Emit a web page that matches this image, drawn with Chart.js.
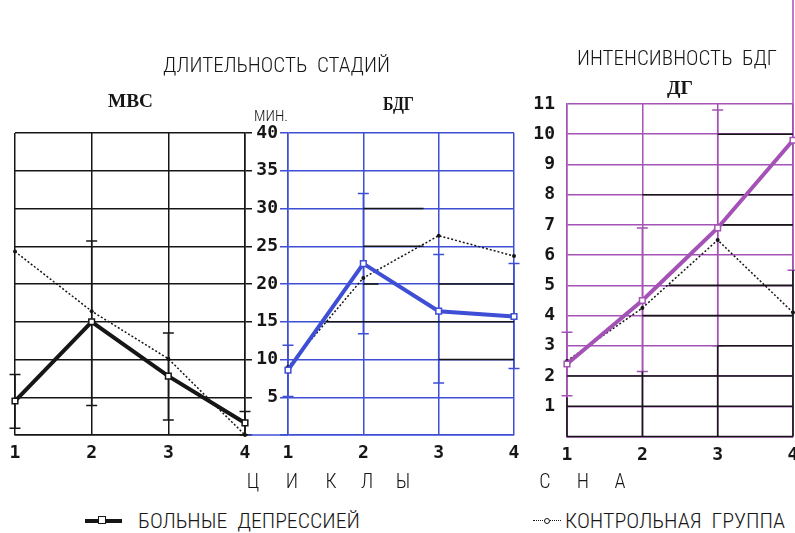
<!DOCTYPE html>
<html lang="ru">
<head>
<meta charset="utf-8">
<title>Длительность стадий и интенсивность БДГ по циклам сна</title>
<script src="https://cdn.jsdelivr.net/npm/chart.js@4.4.1/dist/chart.umd.min.js"></script>
<style>
  html, body { margin: 0; padding: 0; background: #fff; width: 795px; height: 533px; overflow: hidden; position: relative; }
  canvas { position: absolute; top: 0; }
  .thin { position: absolute; font-family: 'Roboto Condensed', 'Liberation Sans Narrow', 'DejaVu Sans', sans-serif; font-weight: 300;
          font-size: 20px; line-height: 1; color: #161616; white-space: pre; transform-origin: 0 0; }
  .serif { position: absolute; font-family: 'Liberation Serif', 'DejaVu Serif', serif; font-weight: bold;
           font-size: 18px; line-height: 1; color: #161616; white-space: pre; transform-origin: 0 0; }
  .letter { position: absolute; width: 30px; text-align: center; }
  .key-solid { position: absolute; height: 4px; background: #161616; }
  .key-dot { position: absolute; height: 0; border-top: 1.5px dotted #161616; }
  .key-box { position: absolute; width: 6px; height: 6px; background: #fff; border: 1.5px solid #161616; }
  .key-ring { position: absolute; width: 4px; height: 4px; background: #fff; border: 1px solid #161616; border-radius: 50%; }
</style>
</head>
<body>
<canvas id="mvs" width="260" height="475" style="left:0"></canvas>
<canvas id="bdg" width="290" height="475" style="left:240px"></canvas>
<canvas id="dg" width="300" height="475" style="left:520px"></canvas>

<div class="thin" data-w="227" style="left:163px;top:55px">ДЛИТЕЛЬНОСТЬ  СТАДИЙ</div>
<div class="thin" data-w="200" style="left:577px;top:48px">ИНТЕНСИВНОСТЬ  БДГ</div>
<div class="thin" data-w="34" style="left:254px;top:109px;font-size:15px">МИН.</div>
<div class="serif" data-w="45" style="left:108px;top:92px">МВС</div>
<div class="serif" data-w="31" style="left:383px;top:95px">БДГ</div>
<div class="serif" data-w="26" style="left:667px;top:79px">ДГ</div>

<div id="axisTitle"></div>

<div class="key-solid" style="left:85px;top:519px;width:37px"></div>
<div class="key-box" style="left:98px;top:516px"></div>
<div class="thin" data-w="222" style="left:138px;top:511px">БОЛЬНЫЕ  ДЕПРЕССИЕЙ</div>
<div class="key-dot" style="left:533px;top:520px;width:28px"></div>
<div class="key-ring" style="left:544px;top:518px"></div>
<div class="thin" data-w="220" style="left:565px;top:511px">КОНТРОЛЬНАЯ  ГРУППА</div>

<script>
// Sleep cycles along the x axis
const cycles = ['1', '2', '3', '4'];

// МВС — duration, minutes
const mvsPatients     = [4.5, 15.0, 7.8, 1.6];
const mvsPatientsHigh = [8.0, 25.7, 13.5, 3.1];
const mvsPatientsLow  = [0.9, 3.9, 2.0, 0.0];
const mvsControl      = [24.3, 16.4, 10.1, 0.0];

// БДГ — duration, minutes
const bdgPatients     = [8.6, 22.7, 16.4, 15.7];
const bdgPatientsHigh = [11.9, 32.0, 23.9, 22.7];
const bdgPatientsLow  = [5.1, 13.4, 6.9, 8.8];
const bdgControl      = [9.0, 20.8, 26.4, 23.7];

// ДГ — REM intensity
const dgPatients     = [2.4, 4.5, 6.9, 9.8];
const dgPatientsHigh = [3.45, 6.9, 10.8, 14.5];
const dgPatientsLow  = [1.35, 2.15, 3.0, 5.5];
const dgControl      = [2.5, 4.25, 6.5, 4.1];

// Axis ranges
const minuteRange = { min: 0, max: 40, step: 5 };
const intensityRange = { min: 0, max: 11, step: 1 };

// Letters of the shared x-axis caption
const captionLetters = ['Ц', 'И', 'К', 'Л', 'Ы', 'С', 'Н', 'А'];
const captionCentres = [253, 292, 331, 367, 403, 545, 583, 620];

// Grid rules printed in black over the coloured grid: [value, from cycle, to cycle]
const bdgInkRows = [[30, 2, 2.8], [25, 2, 2.8], [20, 2, 2.2], [20, 3, 4], [15, 1.5, 4], [10, 3, 4]];
const dgInkRows  = [[10, 3, 4], [8, 2, 4], [7, 3, 4], [5, 2.35, 4], [4, 2, 4], [3, 3, 4], [2, 1, 4], [1, 1, 4], [0, 1, 4]];
// vertical rules: [cycle, from value, to value]
const dgInkCols  = [[1, 0, 1.3], [2, 0, 2.15], [3, 0, 3.0], [4, 0, 5.5]];

const INK = '#161616';
const BLUE = '#3f4fd5';
const PURPLE = '#a452b5';
const tickFont = { family: "'DejaVu Sans Mono', 'Liberation Mono', monospace", size: 18, weight: 'bold' };

// Vertical spread bars with caps, drawn under the lines
const errorBars = {
  id: 'errorBars',
  beforeDatasetsDraw(chart, args, o) {
    if (!o || !o.high) return;
    const { ctx, scales: { x, y } } = chart;
    const cap = o.cap || 5.5;
    ctx.save();
    ctx.strokeStyle = o.color;
    ctx.lineWidth = o.width || 1.5;
    o.high.forEach((h, i) => {
      const px = x.getPixelForValue(i);
      const top = y.getPixelForValue(h);
      const bot = y.getPixelForValue(o.low[i]);
      ctx.beginPath();
      ctx.moveTo(px, top); ctx.lineTo(px, bot);
      ctx.moveTo(px - cap, top); ctx.lineTo(px + cap, top);
      ctx.moveTo(px - cap, bot); ctx.lineTo(px + cap, bot);
      ctx.stroke();
    });
    ctx.restore();
  }
};

// Black over-printed pieces of the grid, plus the base rule reaching left
const inkRules = {
  id: 'inkRules',
  beforeDatasetsDraw(chart, args, o) {
    if (!o) return;
    const { ctx, chartArea, scales: { x, y } } = chart;
    ctx.save();
    ctx.lineWidth = 1.6;
    if (o.reach) {
      ctx.strokeStyle = o.reachColor;
      ctx.beginPath();
      ctx.moveTo(chartArea.left - o.reach, chartArea.bottom);
      ctx.lineTo(chartArea.left, chartArea.bottom);
      ctx.stroke();
    }
    ctx.strokeStyle = INK;
    (o.rows || []).forEach(([v, a, b]) => {
      const py = y.getPixelForValue(v);
      ctx.beginPath();
      ctx.moveTo(x.getPixelForValue(a - 1), py);
      ctx.lineTo(x.getPixelForValue(b - 1), py);
      ctx.stroke();
    });
    (o.cols || []).forEach(([c, a, b]) => {
      const px = x.getPixelForValue(c - 1);
      ctx.beginPath();
      ctx.moveTo(px, y.getPixelForValue(a));
      ctx.lineTo(px, y.getPixelForValue(b));
      ctx.stroke();
    });
    ctx.restore();
  }
};

function patientSet(data, color) {
  return {
    label: 'БОЛЬНЫЕ ДЕПРЕССИЕЙ', data, order: 0,
    borderColor: color, borderWidth: 4, tension: 0,
    pointStyle: 'rect', pointRadius: 4, pointBackgroundColor: '#fff',
    pointBorderColor: color, pointBorderWidth: 1.5, clip: 10
  };
}
function controlSet(data) {
  return {
    label: 'КОНТРОЛЬНАЯ ГРУППА', data, order: 1,
    borderColor: INK, borderWidth: 1.5, borderDash: [2, 2], tension: 0,
    pointRadius: 2, pointBackgroundColor: INK, pointBorderWidth: 0, clip: 10
  };
}

function panel(id, cfg) {
  return new Chart(document.getElementById(id), {
    type: 'line',
    data: { labels: cycles, datasets: [patientSet(cfg.patients, cfg.color), controlSet(cfg.control)] },
    plugins: [errorBars, inkRules],
    options: {
      responsive: false, animation: false, devicePixelRatio: 1,
      layout: { padding: cfg.padding },
      plugins: {
        legend: { display: false }, tooltip: { enabled: false },
        errorBars: { high: cfg.high, low: cfg.low, color: cfg.color },
        inkRules: { rows: cfg.inkRows, cols: cfg.inkCols, reach: cfg.reach || 0, reachColor: cfg.color }
      },
      scales: {
        x: {
          type: 'category', offset: false,
          grid: { color: cfg.color, lineWidth: 1.5, drawTicks: false },
          border: { color: cfg.color, width: 1.5 },
          ticks: { color: INK, font: tickFont, padding: 8, maxRotation: 0 },
          afterFit(s) { s.height = cfg.xHeight; }
        },
        y: {
          position: cfg.yPos, min: cfg.range.min, max: cfg.range.max,
          grid: { color: cfg.color, lineWidth: 1.5, drawTicks: cfg.tickLen > 0, tickLength: cfg.tickLen, tickColor: cfg.color },
          border: { color: cfg.color, width: 1.5 },
          ticks: {
            stepSize: cfg.range.step, display: cfg.yLabels, color: INK, font: tickFont, padding: cfg.tickPad,
            callback: v => (v === 0 ? '' : String(v))
          },
          afterFit(s) { s.width = cfg.yWidth; }
        }
      }
    }
  });
}

panel('mvs', {
  patients: mvsPatients, control: mvsControl, high: mvsPatientsHigh, low: mvsPatientsLow,
  color: INK, range: minuteRange, yPos: 'right', yLabels: false, yWidth: 15, tickLen: 7, tickPad: 0,
  padding: { left: 15, right: 0, top: 133, bottom: 0 }, xHeight: 40
});

panel('bdg', {
  patients: bdgPatients, control: bdgControl, high: bdgPatientsHigh, low: bdgPatientsLow,
  color: BLUE, range: minuteRange, yPos: 'left', yLabels: true, yWidth: 48, tickLen: 8, tickPad: 2,
  padding: { left: 0, right: 16, top: 133, bottom: 0 }, xHeight: 40, inkRows: bdgInkRows, reach: 40
});

panel('dg', {
  patients: dgPatients, control: dgControl, high: dgPatientsHigh, low: dgPatientsLow,
  color: PURPLE, range: intensityRange, yPos: 'left', yLabels: true, yWidth: 47, tickLen: 0, tickPad: 12,
  padding: { left: 0, right: 27, top: 104, bottom: 0 }, xHeight: 38.5, inkRows: dgInkRows, inkCols: dgInkCols
});

// shared caption under the x axes
const caption = document.getElementById('axisTitle');
captionLetters.forEach((ch, i) => {
  const s = document.createElement('div');
  s.className = 'thin letter';
  s.style.left = (captionCentres[i] - 15) + 'px';
  s.style.top = '471px';
  s.textContent = ch;
  caption.appendChild(s);
});

// squeeze the headings to their set widths
document.querySelectorAll('[data-w]').forEach(el => {
  const w = el.getBoundingClientRect().width;
  if (w > 0) el.style.transform = 'scaleX(' + (Number(el.dataset.w) / w).toFixed(3) + ')';
});
</script>
</body>
</html>
